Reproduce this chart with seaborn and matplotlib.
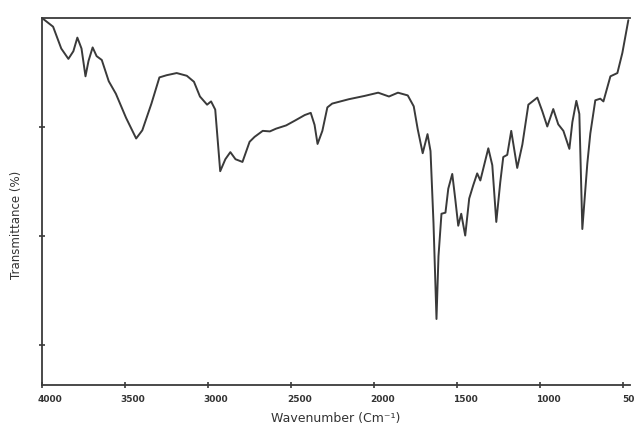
import numpy as np
import pandas as pd
import matplotlib
matplotlib.use("Agg")
import matplotlib.pyplot as plt
import matplotlib.transforms as mtransforms
import seaborn as sns

# IR spectrum (wavenumber in cm^-1, transmittance in %)
wavenumber = [4000, 3933, 3884, 3841, 3811, 3787, 3762, 3738, 3720, 3695,
              3671, 3640, 3598, 3555, 3494, 3433, 3396, 3341, 3293, 3250,
              3189, 3128, 3085, 3049, 3006, 2982, 2957, 2927, 2896, 2866,
              2835, 2793, 2750, 2720, 2671, 2628, 2591, 2530, 2476, 2418,
              2382, 2359, 2341, 2312, 2282, 2253, 2153, 2059, 1976, 1911,
              1857, 1798, 1762, 1738, 1708, 1679, 1661, 1643, 1625, 1613,
              1595, 1571, 1554, 1530, 1512, 1494, 1476, 1452, 1428, 1404,
              1380, 1361, 1313, 1289, 1265, 1241, 1223, 1199, 1175, 1139,
              1108, 1072, 1018, 988, 958, 922, 892, 861, 825, 807,
              783, 765, 747, 717, 699, 669, 639, 620, 578, 536,
              506, 470]
transmittance = [100.0, 98.4, 94.4, 92.5, 93.9, 96.4, 94.4, 89.3, 92.1, 94.6,
                 93.0, 92.3, 88.4, 86.1, 81.7, 77.9, 79.4, 84.3, 89.1, 89.5,
                 89.9, 89.4, 88.3, 85.6, 84.1, 84.7, 83.2, 71.9, 74.1, 75.4,
                 74.1, 73.6, 77.3, 78.2, 79.3, 79.2, 79.7, 80.3, 81.2, 82.2,
                 82.6, 80.4, 76.9, 79.3, 83.6, 84.3, 85.1, 85.7, 86.3, 85.6,
                 86.3, 85.8, 83.8, 79.6, 75.2, 78.7, 75.6, 62.4, 44.8, 56.3,
                 64.1, 64.3, 68.7, 71.4, 66.8, 61.9, 64.1, 60.1, 66.9, 69.3,
                 71.5, 70.2, 76.1, 73.0, 62.6, 69.9, 74.5, 74.9, 79.3, 72.5,
                 76.8, 84.1, 85.4, 82.9, 80.1, 83.3, 80.5, 79.3, 76.0, 80.9,
                 84.8, 82.4, 61.3, 73.3, 78.8, 84.9, 85.2, 84.7, 89.3, 89.9,
                 93.6, 99.6]

x_ticks = [4000, 3500, 3000, 2500, 2000, 1500, 1000, 500]
y_ticks = [80, 60, 40]

df = pd.DataFrame({"wavenumber": wavenumber, "transmittance": transmittance})

sns.set_style("white")
plt.rcParams["font.family"] = ["DejaVu Sans"]

ink = "#3a3a3a"
fig = plt.figure(figsize=(6.34, 4.30), dpi=100)
ax = fig.add_axes([0.0662, 0.1047, 0.9275, 0.8535])

sns.lineplot(data=df, x="wavenumber", y="transmittance", ax=ax,
             color=ink, linewidth=1.4, sort=False)

ax.set_xlim(4000, 460)
ax.set_ylim(32.7, 100)
ax.set_xticks(x_ticks)
ax.set_xticklabels([str(t) for t in x_ticks])
ax.set_yticks(y_ticks)
ax.set_yticklabels([])

for side in ["left", "bottom", "top"]:
    ax.spines[side].set_visible(True)
    ax.spines[side].set_color(ink)
    ax.spines[side].set_linewidth(1.3)
ax.spines["right"].set_visible(False)

ax.tick_params(axis="both", direction="inout", length=4, width=1.2,
               color=ink, labelcolor="#333333", labelsize=6.5, pad=5,
               bottom=True, left=True, top=False, right=False)

# scanned labels sit a little right of their ticks
offset = mtransforms.ScaledTranslation(8 / 100, 0, fig.dpi_scale_trans)
for lab in ax.get_xticklabels():
    lab.set_transform(lab.get_transform() + offset)
    lab.set_fontweight("bold")

ax.set_xlabel("Wavenumber (Cm\u207b\u00b9)", fontsize=9, color="#333333", labelpad=6)
ax.set_ylabel("Transmittance (%)", fontsize=8.5, color="#333333")
ax.yaxis.set_label_coords(-0.033, 0.436)

fig.savefig("out.png", dpi=100, facecolor="white")
